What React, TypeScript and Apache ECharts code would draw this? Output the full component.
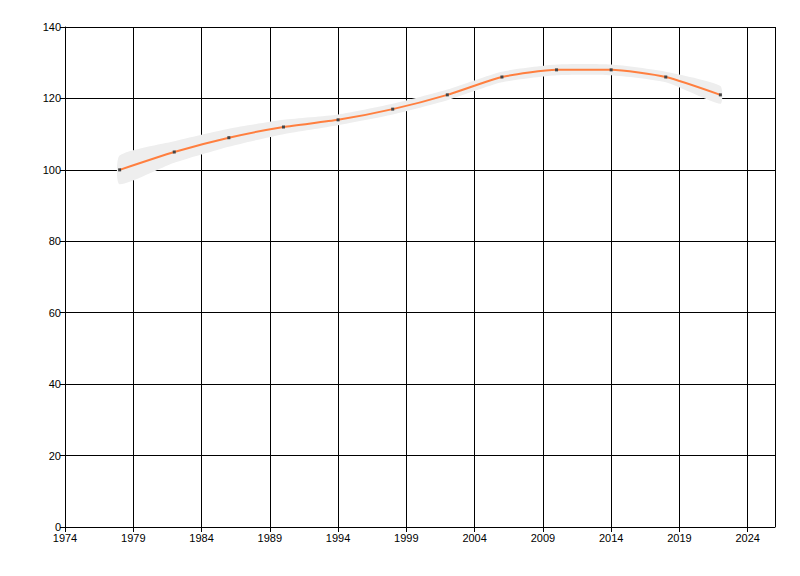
import React, { useEffect, useRef } from "react";
import * as echarts from "echarts";

const years = [1978, 1982, 1986, 1990, 1994, 1998, 2002, 2006, 2010, 2014, 2018, 2022];
const values = [100, 105, 109, 112, 114, 117, 121, 126, 128, 128, 126, 121];
const bandLower = [96, 102, 106.5, 110, 112.5, 115.5, 119.5, 124.5, 126.5, 126.5, 124.5, 118.5];
const bandUpper = [104, 108, 111.5, 114, 115.5, 118.5, 122.5, 127.5, 129.5, 129.5, 127.5, 123.5];

export default function App() {
  const ref = useRef<HTMLDivElement>(null);
  useEffect(() => {
    if (!ref.current) return;
    const chart = echarts.init(ref.current, null, { renderer: "svg" });
    const labelStyle = { color: "#000", fontSize: 11, fontFamily: "Liberation Sans, Arial, sans-serif" };
    chart.setOption({
      animation: false,
      backgroundColor: "#fff",
      grid: { left: 65, top: 27, right: 25, bottom: 49, containLabel: false },
      xAxis: {
        type: "value",
        min: 1974,
        max: 2026,
        interval: 5,
        axisLine: { show: true, lineStyle: { color: "#000", width: 1 } },
        axisTick: { show: true, length: 5, lineStyle: { color: "#000" } },
        axisLabel: { ...labelStyle, margin: 5, showMaxLabel: false, formatter: (v: number) => (v > 2024 ? "" : String(v)) },
        splitLine: { show: true, lineStyle: { color: "#000", width: 1 } },
      },
      yAxis: {
        type: "value",
        min: 0,
        max: 140,
        interval: 20,
        axisLine: { show: true, lineStyle: { color: "#000", width: 1 } },
        axisTick: { show: true, length: 5, lineStyle: { color: "#000" } },
        axisLabel: { ...labelStyle, margin: 4, verticalAlign: "middle" },
        splitLine: { show: true, lineStyle: { color: "#000", width: 1 } },
      },
      series: [
        {
          type: "custom",
          data: years.map((y, i) => [y, bandLower[i], bandUpper[i]]),
          encode: { x: 0, y: [1, 2] },
          silent: true,
          z: 3,
          renderItem: (params: any, api: any) => {
            if (params.dataIndex !== 0) return null;
            const upper = years.map((y, i) => api.coord([y, bandUpper[i]]));
            const lower = years.map((y, i) => api.coord([y, bandLower[i]])).reverse();
            return {
              type: "polygon",
              shape: { points: upper.concat(lower), smooth: 0.2 },
              style: { fill: "#eeeeee", stroke: "none" },
            };
          },
        },
        {
          type: "line",
          data: years.map((y, i) => [y, values[i]]),
          smooth: 0.2,
          symbol: "rect",
          symbolSize: 3,
          itemStyle: { color: "#444" },
          lineStyle: { color: "#ff7f3f", width: 2 },
          z: 5,
        },
      ],
    });
    return () => chart.dispose();
  }, []);
  return <div ref={ref} style={{ width: 800, height: 576, position: "absolute", left: 0, top: 0 }} />;
}
